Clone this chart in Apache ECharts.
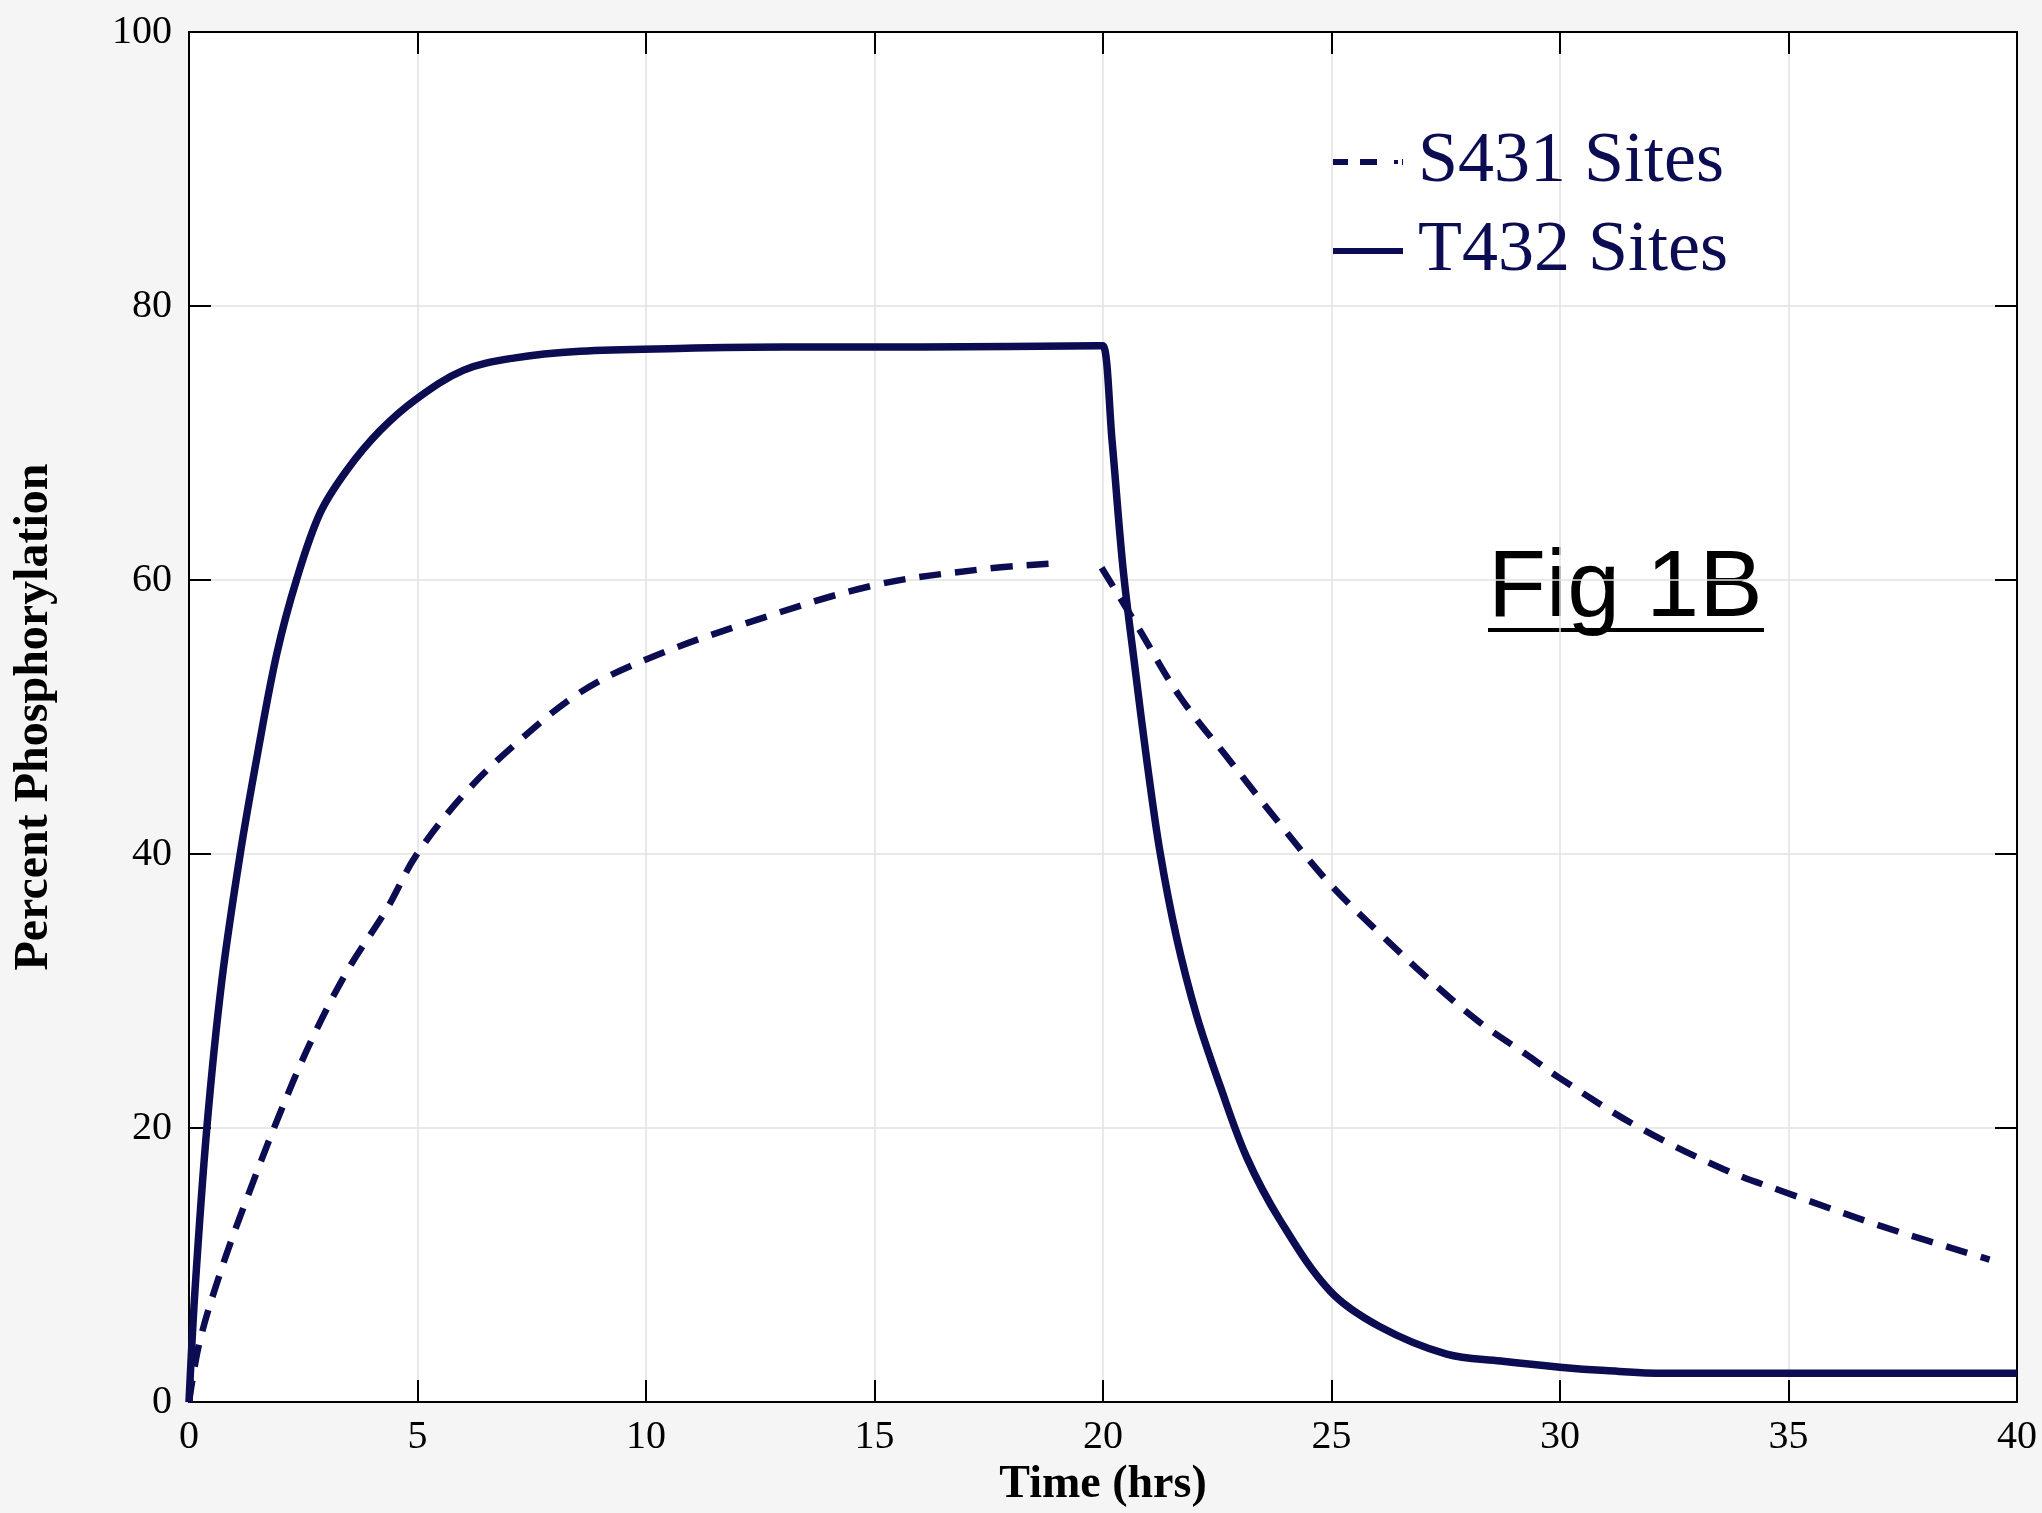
<!DOCTYPE html>
<html>
<head>
<meta charset="utf-8">
<title>Fig 1B</title>
<script src="https://cdn.jsdelivr.net/npm/echarts/dist/echarts.min.js"></script>
<style>
  html, body { margin: 0; padding: 0; background: #f5f5f5; }
  #main { width: 2042px; height: 1513px; }
</style>
</head>
<body>
<div id="main"></div>
<script>
// values (time in hrs, percent)
var t432Time = [0, 0.13, 0.39, 0.72, 1.12, 1.51, 1.92, 2.36, 2.87, 3.45, 4.18, 4.97, 6.0, 7.1, 8.56, 10.7, 13, 16, 19.9, 20,
  20.2, 20.44, 20.7, 20.96, 21.25, 21.61, 22.05, 22.56, 23.14, 23.87, 24.97, 26.06, 27.52, 28.7, 30.0, 31.0, 32.3, 36, 40];
var t432Value = [0, 8.1, 20.0, 30.8, 40.0, 47.5, 54.6, 60.1, 64.9, 68.0, 70.9, 73.2, 75.3, 76.2, 76.7, 76.9, 77.0, 77.0, 77.1, 77.1,
  70.1, 60.8, 53.6, 46.8, 40.1, 33.9, 28.2, 23.1, 17.9, 13.3, 8.1, 5.5, 3.5, 3.0, 2.55, 2.3, 2.1, 2.1, 2.1];

// null marks the small break in the dashed curve just before t = 20
var s431Time = [0, 0.24, 0.75, 1.26, 1.92, 2.65, 3.45, 4.33, 4.97, 6.0, 7.1, 8.56, 10.0, 12.06, 14.97, 17.38, 18.9, 19.45,
  19.97, 20.74, 21.68, 22.78, 23.87, 24.97, 26.06, 27.15, 28.25, 29.34, 29.97, 31.7, 33.58, 34.94, 36.98, 39.0, 39.4];
var s431Value = [0, 4.5, 10.1, 14.8, 20.5, 26.2, 31.4, 36.0, 39.9, 44.3, 47.9, 51.8, 54.2, 56.7, 59.6, 60.8, 61.2, null,
  60.9, 56.7, 51.5, 46.8, 42.2, 37.8, 34.2, 30.8, 27.7, 25.2, 23.7, 20.1, 17.0, 15.3, 12.9, 10.8, 10.4];

var xTicks = [0, 40, 5];
var yTicks = [0, 100, 20];

function pairs(xs, ys) {
  var res = [];
  for (var i = 0; i < xs.length; i++) {
    res.push([xs[i], ys[i] === null ? '-' : ys[i]]);
  }
  return res;
}

var navy = '#0c0c52';
var serif = '"Liberation Serif", "Times New Roman", serif';

function xAx(pos, withLabel) {
  return {
    type: 'value', position: pos, min: xTicks[0], max: xTicks[1], interval: xTicks[2],
    axisLine: { show: true, onZero: false, lineStyle: { color: '#000', width: 2 } },
    axisTick: { show: true, inside: true, length: 22, lineStyle: { color: '#000', width: 2 } },
    axisLabel: { show: withLabel, fontFamily: serif, fontSize: 40, color: '#000', margin: 15 },
    splitLine: { show: withLabel, lineStyle: { color: '#e2e2e2', width: 1.5 } },
    name: withLabel ? 'Time (hrs)' : '',
    nameLocation: 'middle', nameGap: 57,
    nameTextStyle: { fontFamily: serif, fontSize: 46, fontWeight: 'bold', color: '#000' }
  };
}

function yAx(pos, withLabel) {
  return {
    type: 'value', position: pos, min: yTicks[0], max: yTicks[1], interval: yTicks[2],
    axisLine: { show: true, onZero: false, lineStyle: { color: '#000', width: 2 } },
    axisTick: { show: true, inside: true, length: 22, lineStyle: { color: '#000', width: 2 } },
    axisLabel: { show: withLabel, fontFamily: serif, fontSize: 40, color: '#000', margin: 17 },
    splitLine: { show: withLabel, lineStyle: { color: '#e2e2e2', width: 1.5 } },
    name: withLabel ? 'Percent Phosphorylation' : '',
    nameLocation: 'middle', nameGap: 130,
    nameTextStyle: { fontFamily: serif, fontSize: 48, fontWeight: 'bold', color: '#000' }
  };
}

var chart = echarts.init(document.getElementById('main'));
var option = {
  backgroundColor: '#f5f5f5',
  animation: false,
  grid: { left: 189, right: 25, top: 32, bottom: 110, show: true, backgroundColor: '#fff', borderWidth: 0 },
  xAxis: [xAx('bottom', true), xAx('top', false)],
  yAxis: [yAx('left', true), yAx('right', false)],
  legend: {
    orient: 'vertical', left: 1333, top: 126, padding: 0,
    itemWidth: 70, itemHeight: 6, itemGap: 17,
    textStyle: { fontFamily: serif, fontSize: 72, lineHeight: 72, color: navy, padding: [0, 0, 0, 10] },
    data: [
      { name: 'S431 Sites', icon: 'path://M0,0H15V6H0Z M27,0H44V6H27Z M61,1H65V5H61Z M69,0H70V6H69Z' },
      { name: 'T432 Sites', icon: 'path://M0,0H70V6H0Z' }
    ]
  },
  graphic: [
    {
      type: 'text', x: 1488, y: 590,
      style: { text: 'Fig 1B', fill: '#000', font: '95px "Liberation Sans", Arial, sans-serif', textVerticalAlign: 'middle' }
    },
    { type: 'rect', shape: { x: 1488, y: 628, width: 276, height: 4 }, style: { fill: '#000' } }
  ],
  series: [
    {
      name: 'S431 Sites', type: 'line', symbol: 'none', smooth: 0.35,
      connectNulls: false,
      lineStyle: { color: navy, width: 6.5, type: [22, 14] },
      itemStyle: { color: navy },
      data: pairs(s431Time, s431Value)
    },
    {
      name: 'T432 Sites', type: 'line', symbol: 'none', smooth: 0.35,
      lineStyle: { color: navy, width: 7.5, join: 'round' },
      itemStyle: { color: navy },
      data: pairs(t432Time, t432Value)
    }
  ]
};
chart.setOption(option);
</script>
</body>
</html>
